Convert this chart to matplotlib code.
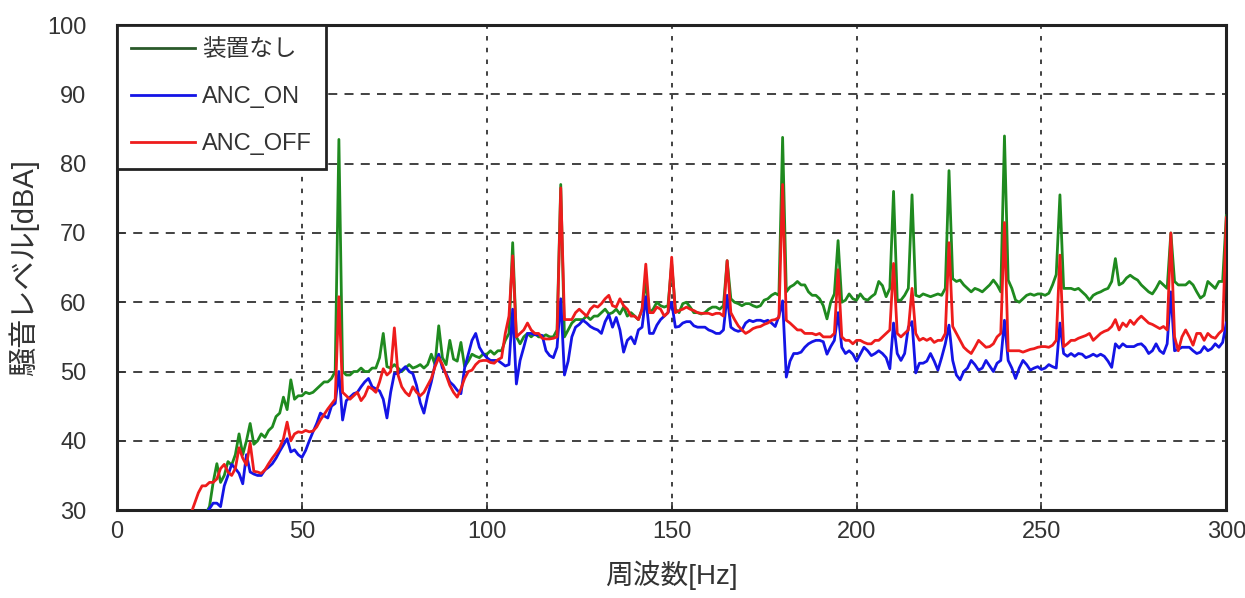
import numpy as np
import matplotlib
matplotlib.use("Agg")
import matplotlib.pyplot as plt

plt.rcParams['font.family'] = ['Liberation Sans', 'Noto Sans CJK JP']

# Frequency axis: 15 Hz .. 300 Hz in 1 Hz steps
freq_start, freq_stop = 15, 300

# Noise level [dBA], no device
level_none = [
    22, 23, 24, 25, 26, 27, 28, 28, 29, 29.5,
    30.5, 34, 36.7, 34, 35, 37, 36.5, 38, 41, 38,
    40, 42.5, 39.5, 40, 41, 40.5, 41.5, 42, 43.5, 44,
    46.3, 44.5, 48.8, 46, 46.5, 46.5, 47, 46.8, 47, 47.5,
    48, 48.5, 48.5, 49, 50, 83.5, 50, 49.5, 49.5, 50,
    50, 50.5, 50, 50, 50.5, 50.5, 52, 55.5, 50.7, 50.5,
    51, 50.5, 50, 50.5, 51, 50.5, 50.7, 51, 50.5, 51,
    52.5, 51, 56.6, 52, 51, 54.5, 51.8, 51.5, 54.2, 50.7,
    51.5, 52.5, 52.2, 52, 52.5, 52.5, 53, 52.5, 53, 53,
    54.5, 55.5, 68.6, 55, 54, 55, 55.5, 55, 55.5, 55,
    55, 55.3, 55, 55, 56, 77, 55, 56, 57, 57.5,
    57.5, 57.5, 58, 57.5, 58, 58, 58.5, 59, 58.3, 58.5,
    59, 58.3, 59.3, 58, 58.5, 58, 57.5, 59, 63, 58.5,
    59, 60, 59.5, 59.3, 59.5, 65.5, 59, 58.5, 59.8, 60,
    59.3, 58.5, 58.5, 58.3, 58.5, 59, 59.3, 59.3, 59, 59.5,
    66, 60.5, 60, 59.8, 59.5, 59.8, 59.8, 59.5, 59.3, 59.5,
    60.3, 60.5, 61, 61.3, 61, 83.8, 61.5, 62.2, 62.5, 63,
    62.5, 62.5, 61.5, 61, 61, 60.5, 59.5, 57.6, 60, 61.2,
    68.9, 60, 60.3, 61.2, 60.5, 60.3, 61.2, 60.5, 60.3, 60.8,
    61.2, 63, 62.4, 60.8, 62, 76, 60.3, 60.3, 61, 62,
    75.5, 61, 60.8, 61.2, 61, 60.8, 61, 61.2, 61, 62,
    79, 63.4, 63, 63.2, 62.5, 62, 61.5, 62, 61.8, 61.5,
    62, 62.5, 63.2, 62.5, 61.5, 84, 63.2, 62, 60.3, 60,
    60.5, 61, 61.2, 61, 61.2, 61.2, 61, 61.3, 62.5, 64,
    75.5, 62, 62, 62, 61.8, 62, 61.5, 61, 60.3, 61,
    61.3, 61.5, 61.8, 62, 63, 66.3, 62.5, 62.8, 63.5, 63.9,
    63.5, 63.2, 62.5, 62, 61.5, 61.2, 62, 63, 62.5, 62,
    70, 63, 62.5, 62.5, 62.5, 63, 62.5, 61.5, 60.6, 61,
    63, 62.5, 62, 63, 63, 72.5,
]

# Noise level [dBA], ANC on
level_anc_on = [
    22, 23, 24, 25, 26, 27, 28, 28.5, 29, 29.5,
    30.2, 31, 31, 30.5, 33.5, 35, 36.6, 36, 35.3, 33.8,
    38, 35.5, 35.2, 35, 35, 35.8, 36.2, 36.7, 37.5, 38.5,
    39.4, 40.3, 38.4, 38.7, 38, 37.6, 38.6, 40, 41.3, 42.5,
    44, 43.6, 43.3, 45, 45.4, 50, 43, 45.8, 46.3, 46.8,
    47, 47.8, 48.5, 49, 47.8, 47.5, 47.2, 46, 43.3, 47,
    49.7, 49.7, 50.2, 50.7, 50, 49.7, 48, 45.5, 44, 46.5,
    48.5, 51, 52.5, 50.5, 49.7, 48.5, 48, 47.3, 46.8, 50.5,
    52.5, 54.5, 55.5, 53.5, 52.6, 52, 51.6, 51.6, 51.6, 51.2,
    50.8, 51, 59, 48.2, 51.6, 53.5, 55.5, 55.5, 55.3, 55.3,
    55.2, 53, 52.3, 52, 53.5, 60.5, 49.5, 51.5, 55, 56.4,
    56.8, 57.4, 57, 56.5, 56.2, 56, 55.5, 57.2, 58.2, 56.4,
    57.8, 56, 52.8, 54.5, 55, 54, 56, 56.4, 60.8, 55.5,
    55.5, 56.7, 57.5, 58, 58.5, 60, 56.4, 56.5, 57, 57.2,
    57.2, 56.6, 56.4, 56.4, 56.4, 56, 55.8, 55.5, 55.5, 56,
    61, 56.4, 56, 55.8, 56, 57, 57.4, 57.2, 57.4, 57.4,
    57.2, 57.4, 57, 56.5, 58, 60.2, 49.2, 51.5, 52.6, 52.6,
    52.8, 53.5, 54, 54.3, 54.5, 54.5, 54.3, 52.5, 53.6, 54.5,
    58.5, 53.5, 52.6, 53, 52.5, 51.5, 52.5, 53.5, 53, 52.3,
    52.6, 53, 52.6, 52, 50.4, 57, 52.6, 51.6, 52.6, 56.4,
    57.2, 49.8, 51.2, 51.2, 51.5, 52.6, 51.5, 50.2, 52, 54,
    56.7, 51.6, 49.5, 48.8, 50, 50.5, 51.6, 51, 50.2, 50.5,
    51.6, 50.8, 50, 51.2, 51.6, 57.4, 51.6, 50.5, 49, 50.5,
    51.6, 51, 50.2, 50.5, 50.7, 50.3, 50.5, 51, 50.7, 50.5,
    57, 52.6, 52.2, 52.6, 52.2, 52.6, 52.5, 52, 52.2, 52.5,
    52.2, 52.5, 52.2, 51.5, 50.6, 54, 53.4, 54, 53.6, 53.6,
    53.6, 53.9, 54, 53.5, 52.6, 53, 54, 53, 52.6, 54,
    61.5, 53, 53.2, 53.5, 53.5, 53.5, 53, 52.6, 52.8, 53.6,
    53, 53.3, 54, 53.5, 54.2, 57,
]

# Noise level [dBA], ANC off
level_anc_off = [
    24, 25, 26, 27, 28, 29.5, 31, 32.5, 33.5, 33.5,
    34, 34, 34.5, 36, 36.6, 35.5, 35, 36, 39, 37.5,
    36.5, 39.7, 35.6, 35.5, 35.3, 35.8, 36.7, 37.5, 38.2, 39,
    40.3, 42.7, 40, 41, 41.3, 41.2, 41.5, 41.3, 41.4, 42,
    43, 43.8, 44.6, 45.3, 46, 60.8, 47, 46.5, 46, 46.5,
    47, 45.8, 46.5, 47.8, 47.5, 47, 48.5, 50.4, 49.5, 50,
    56.3, 49.5, 47.8, 47, 46.5, 47.8, 47, 46.5, 47, 48,
    49, 50.7, 52, 51, 49.5, 48, 47, 46.3, 47.5, 49,
    50, 50.2, 51, 51.5, 51.6, 51.6, 51.3, 51.2, 51.7, 52,
    55.5, 58, 66.7, 55, 55.5, 56, 57, 56, 55.5, 55.5,
    54.8, 54.7, 54.7, 54.8, 55, 76.5, 57.5, 57.5, 57.5, 58.5,
    59, 58.5, 58, 59, 59.5, 59.3, 59.8, 60.5, 61, 59.5,
    59.3, 60.5, 59.5, 59, 58, 58, 57.5, 59, 65.5, 58.5,
    58.5, 59.3, 59, 58, 58.5, 66.5, 58.5, 58.8, 59, 59.3,
    59, 58.8, 58.5, 58.4, 58.4, 58.4, 58.2, 58.4, 58.4, 58,
    66, 58.5, 57.5, 56.6, 56, 55.5, 55.8, 56.2, 56.4, 56.5,
    56.8, 57, 57.4, 57.5, 57.8, 77, 57.4, 57, 56.5, 56,
    56, 55.5, 55.5, 55.5, 55.3, 55.5, 55, 55, 55, 55.5,
    64.7, 55, 54.5, 54.5, 54, 54.5, 54.5, 54.2, 54, 54,
    54.5, 54.5, 55, 55.5, 56, 65.6, 55.5, 55, 55.5, 56,
    62, 55.5, 54.5, 54.8, 54.5, 54.8, 54.2, 54.5, 54.5, 55.5,
    68.6, 56.5, 55.5, 54.5, 53.5, 53, 52.6, 53.5, 54.5, 54,
    53.5, 53.6, 54, 55, 55.5, 71.5, 53, 53, 53, 53,
    52.8, 53, 53.2, 53.3, 53.5, 53.6, 53.6, 53.5, 53.8, 54.5,
    66.8, 53.6, 54, 54.5, 54.5, 54.8, 55, 55.2, 55.5, 54.5,
    55, 55.5, 55.8, 56, 56.5, 57.5, 56, 57, 56.5, 57.4,
    56.8, 57.5, 58, 57.5, 57, 56.8, 56.5, 56.2, 56.5, 56,
    70, 55, 53, 55, 56, 55, 53.8, 55.5, 55.5, 54.5,
    55.5, 55, 54.8, 55.5, 56, 72.2,
]

series_labels = ['装置なし', 'ANC_ON', 'ANC_OFF']
x_ticks = [0, 50, 100, 150, 200, 250, 300]
y_ticks = [30, 40, 50, 60, 70, 80, 90, 100]

freq = np.arange(freq_start, freq_stop + 1)

fig = plt.figure(figsize=(12.45, 5.98), dpi=100)
ax = fig.add_axes([0.094, 0.147, 0.891, 0.811])

ax.plot(freq, level_none, color='#1f8a1f', lw=2.0, label=series_labels[0], zorder=3)
ax.plot(freq, level_anc_on, color='#1414e6', lw=2.0, label=series_labels[1], zorder=4)
ax.plot(freq, level_anc_off, color='#ee1c1c', lw=2.0, label=series_labels[2], zorder=5)

ax.set_xlim(0, 300)
ax.set_ylim(30, 100)
ax.set_xticks(x_ticks)
ax.set_yticks(y_ticks)
ax.tick_params(axis='both', direction='in', length=6, width=1.2, labelsize=17,
               colors='#333333')
ax.tick_params(axis='y', pad=22)
ax.tick_params(axis='x', pad=8)

ax.yaxis.grid(True, color='#333333', lw=1.3, linestyle=(0, (5, 4)))
ax.xaxis.grid(True, color='#333333', lw=1.3, linestyle=(0, (2.5, 4)))
ax.set_axisbelow(True)

for sp in ax.spines.values():
    sp.set_linewidth(2.2)
    sp.set_color('#222222')

ax.set_xlabel('周波数[Hz]', fontsize=20, color='#333333', labelpad=12)
ax.set_ylabel('騒音レベル[dBA]', fontsize=21, color='#333333', labelpad=6)

leg = ax.legend(loc='upper left', bbox_to_anchor=(0.0, 1.0), frameon=True,
                fancybox=False, edgecolor='#222222', framealpha=1,
                fontsize=17, handlelength=2.7, handletextpad=0.3,
                borderaxespad=0, borderpad=0.6, labelspacing=1.05)
leg.get_frame().set_linewidth(2.0)
for t in leg.get_texts():
    t.set_color('#333333')
leg.legend_handles[0].set_color('#2a5a2a')

fig.savefig('out.png', dpi=100, facecolor='white')
